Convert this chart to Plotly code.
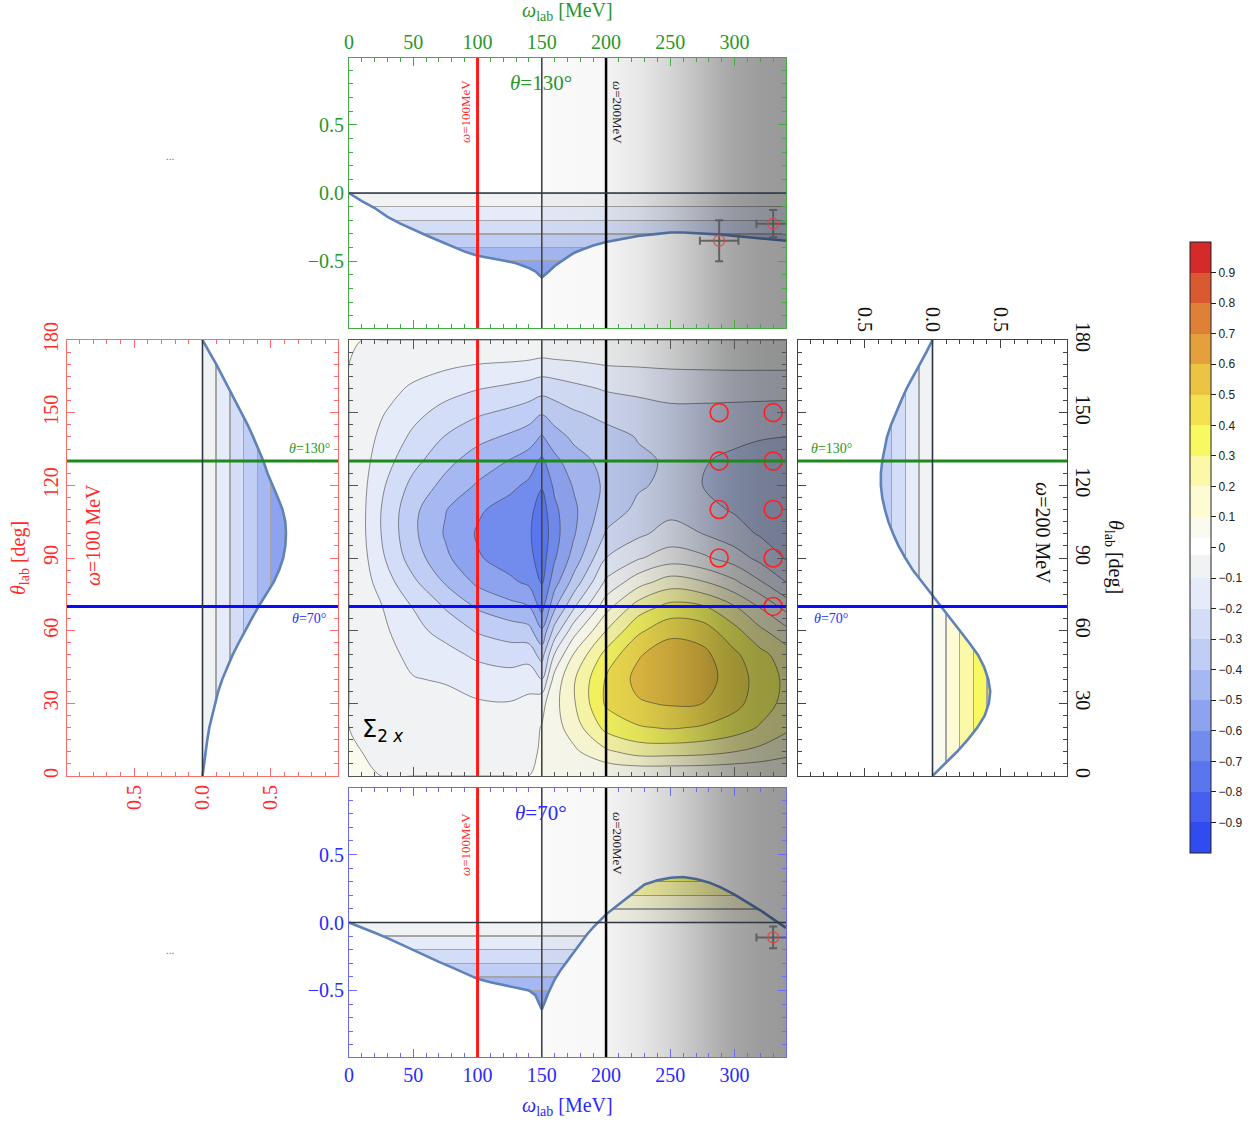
import plotly.graph_objects as go

W, H = 1260, 1124

# ---------------- data ----------------
omega_grid = [0, 10, 25, 50, 75, 100, 125, 140, 150, 160, 175, 200, 225, 250, 275, 300, 320, 340]
theta_grid = [0, 10, 20, 30, 40, 50, 60, 70, 80, 90, 100, 110, 120, 130, 140, 150, 160, 170, 180]

# Sigma_2x along theta_grid, one list per omega of omega_grid
sig_w000 = [0, 0, 0, 0, 0, 0, 0, 0, 0, 0, 0, 0, 0, 0, 0, 0, 0, 0, 0]
sig_w010 = [0, 0.0, -0.01, -0.01, -0.015, -0.02, -0.025, -0.035, -0.05, -0.065, -0.075, -0.075, -0.07, -0.06, -0.05, -0.04, -0.025, -0.012, 0]
sig_w025 = [0, -0.005, -0.015, -0.025, -0.04, -0.055, -0.075, -0.095, -0.14, -0.18, -0.20, -0.20, -0.18, -0.15, -0.12, -0.09, -0.06, -0.03, 0]
sig_w050 = [0, -0.01, -0.025, -0.06, -0.095, -0.13, -0.17, -0.205, -0.28, -0.35, -0.38, -0.375, -0.33, -0.27, -0.22, -0.17, -0.115, -0.057, 0]
sig_w075 = [0, -0.015, -0.035, -0.065, -0.11, -0.165, -0.235, -0.31, -0.41, -0.48, -0.51, -0.495, -0.43, -0.37, -0.305, -0.235, -0.16, -0.08, 0]
sig_w100 = [0, -0.02, -0.05, -0.09, -0.145, -0.22, -0.31, -0.415, -0.52, -0.59, -0.61, -0.585, -0.51, -0.45, -0.37, -0.285, -0.195, -0.10, 0]
sig_w125 = [0, -0.02, -0.05, -0.095, -0.16, -0.245, -0.35, -0.47, -0.58, -0.645, -0.665, -0.64, -0.575, -0.505, -0.415, -0.32, -0.22, -0.11, 0]
sig_w140 = [0, -0.01, -0.035, -0.075, -0.14, -0.24, -0.37, -0.50, -0.62, -0.67, -0.685, -0.67, -0.62, -0.55, -0.45, -0.35, -0.24, -0.12, 0]
sig_w150 = [0, 0.005, 0.005, -0.03, -0.20, -0.34, -0.485, -0.64, -0.71, -0.75, -0.77, -0.75, -0.69, -0.62, -0.51, -0.39, -0.26, -0.135, 0]
sig_w160 = [0, 0.03, 0.06, 0.07, 0.04, -0.09, -0.26, -0.42, -0.54, -0.61, -0.635, -0.62, -0.58, -0.53, -0.44, -0.35, -0.25, -0.125, 0]
sig_w175 = [0, 0.08, 0.15, 0.19, 0.19, 0.11, -0.04, -0.215, -0.36, -0.46, -0.51, -0.52, -0.49, -0.44, -0.38, -0.31, -0.225, -0.115, 0]
sig_w200 = [0, 0.18, 0.33, 0.415, 0.41, 0.335, 0.20, 0.06, -0.08, -0.20, -0.29, -0.35, -0.38, -0.37, -0.335, -0.27, -0.19, -0.095, 0]
sig_w225 = [0, 0.24, 0.39, 0.49, 0.53, 0.49, 0.38, 0.245, 0.06, -0.11, -0.22, -0.28, -0.31, -0.315, -0.295, -0.245, -0.175, -0.09, 0]
sig_w250 = [0, 0.24, 0.41, 0.51, 0.575, 0.56, 0.47, 0.33, 0.15, -0.05, -0.16, -0.23, -0.28, -0.29, -0.275, -0.225, -0.16, -0.085, 0]
sig_w275 = [0, 0.23, 0.39, 0.50, 0.545, 0.53, 0.45, 0.31, 0.11, -0.08, -0.20, -0.27, -0.30, -0.295, -0.275, -0.225, -0.16, -0.082, 0]
sig_w300 = [0, 0.20, 0.35, 0.43, 0.45, 0.42, 0.33, 0.205, 0.02, -0.15, -0.26, -0.31, -0.325, -0.315, -0.285, -0.23, -0.16, -0.08, 0]
sig_w320 = [0, 0.17, 0.29, 0.35, 0.36, 0.33, 0.22, 0.09, -0.09, -0.23, -0.31, -0.34, -0.345, -0.33, -0.295, -0.235, -0.16, -0.08, 0]
sig_w340 = [0, 0.13, 0.22, 0.27, 0.28, 0.25, 0.13, -0.04, -0.20, -0.31, -0.35, -0.365, -0.36, -0.35, -0.30, -0.24, -0.16, -0.08, 0]
sigma_columns = [sig_w000, sig_w010, sig_w025, sig_w050, sig_w075, sig_w100, sig_w125, sig_w140, sig_w150,
                 sig_w160, sig_w175, sig_w200, sig_w225, sig_w250, sig_w275, sig_w300, sig_w320, sig_w340]

# cut at theta = 130 deg (top panel)
cut130_omega = [0, 10, 20, 30, 40, 50, 60, 70, 80, 90, 100, 110, 120, 130, 140, 145, 150, 155, 160, 170,
                175, 180, 190, 200, 210, 225, 240, 250, 260, 275, 290, 300, 320, 340]
cut130_sigma = [0, -0.06, -0.11, -0.175, -0.225, -0.27, -0.31, -0.35, -0.39, -0.43, -0.46, -0.475, -0.495, -0.515,
                -0.55, -0.575, -0.62, -0.58, -0.535, -0.47, -0.44, -0.42, -0.385, -0.36, -0.34, -0.315, -0.30,
                -0.29, -0.29, -0.295, -0.305, -0.315, -0.33, -0.35]
# cut at theta = 70 deg (bottom panel)
cut70_omega = [0, 10, 20, 30, 40, 50, 60, 70, 80, 90, 100, 110, 120, 130, 140, 145, 150, 155, 160, 165, 170,
               175, 180, 185, 190, 195, 200, 210, 220, 230, 240, 250, 260, 270, 280, 290, 300, 310, 320, 330, 340]
cut70_sigma = [0, -0.035, -0.075, -0.115, -0.16, -0.205, -0.25, -0.29, -0.33, -0.375, -0.415, -0.44, -0.46, -0.475,
               -0.50, -0.535, -0.64, -0.52, -0.42, -0.345, -0.28, -0.215, -0.15, -0.09, -0.035, 0.015, 0.06, 0.135,
               0.21, 0.28, 0.31, 0.33, 0.335, 0.32, 0.295, 0.255, 0.205, 0.15, 0.09, 0.025, -0.04]
# cut at omega = 100 MeV (left panel)
cut100_theta = [0, 5, 10, 15, 20, 25, 30, 35, 40, 45, 50, 55, 60, 65, 70, 75, 80, 85, 90, 95, 100, 105, 110,
                115, 120, 125, 130, 135, 140, 145, 150, 155, 160, 165, 170, 175, 180]
cut100_sigma = [0, -0.01, -0.02, -0.035, -0.05, -0.07, -0.09, -0.115, -0.145, -0.18, -0.22, -0.265, -0.31, -0.36,
                -0.41, -0.465, -0.52, -0.56, -0.59, -0.605, -0.61, -0.605, -0.585, -0.55, -0.51, -0.475, -0.445,
                -0.41, -0.37, -0.33, -0.285, -0.24, -0.195, -0.15, -0.10, -0.05, 0]
# cut at omega = 200 MeV (right panel)
cut200_theta = [0, 5, 10, 15, 20, 25, 30, 35, 40, 45, 50, 55, 60, 65, 70, 75, 80, 85, 90, 95, 100, 105, 110,
                115, 120, 125, 130, 135, 140, 145, 150, 155, 160, 165, 170, 175, 180]
cut200_sigma = [0, 0.09, 0.18, 0.26, 0.33, 0.385, 0.415, 0.425, 0.41, 0.38, 0.335, 0.27, 0.20, 0.13, 0.06, -0.01,
                -0.08, -0.145, -0.20, -0.25, -0.29, -0.325, -0.35, -0.37, -0.38, -0.38, -0.37, -0.355, -0.335,
                -0.305, -0.27, -0.23, -0.19, -0.14, -0.095, -0.045, 0]

# experimental points
exp130_omega = [288, 330]
exp130_sigma = [-0.35, -0.225]
exp130_dsigma = [0.15, 0.10]
exp130_domega = [15, 13]
exp70_omega = [330]
exp70_sigma = [-0.11]
exp70_dsigma = [0.08]
exp70_domega = [13]
meas_omega = [288, 288, 288, 288, 330, 330, 330, 330, 330]
meas_theta = [150, 130, 110, 90, 150, 130, 110, 90, 70]

theta_cuts = [130, 70]
omega_cuts = [100, 150, 200]

# colorbar ticks
cb_ticks = [-0.9, -0.8, -0.7, -0.6, -0.5, -0.4, -0.3, -0.2, -0.1, 0, 0.1, 0.2, 0.3, 0.4, 0.5, 0.6, 0.7, 0.8, 0.9]

# ---------------- styles ----------------
band_colors = ['#2e4cf0', '#4560ef', '#5a76ee', '#728cee', '#8ea3ef', '#a6b8f2', '#c0cdf4', '#d4ddf7',
               '#e6ebf9', '#f1f2f3', '#fafaee', '#fcfbd4', '#fbf9a8', '#f8f862', '#f4e050', '#ecc444',
               '#e4a03c', '#de8036', '#d95a30', '#d42a2a']
level_line = 'rgb(165,165,165)'
shade_omega = [150, 199.5, 200, 225, 250, 275, 290, 300, 320, 340]
shade_alpha = [0.02, 0.03, 0.05, 0.09, 0.165, 0.26, 0.32, 0.35, 0.385, 0.40]

SERIF = 'Liberation Serif'
SANS = 'Liberation Sans'
GREEN_F, GREEN_T, GREEN_L = '#44aa44', '#2a962a', '#1d8a1d'
RED_F, RED_T, RED_L = '#ff6a6a', '#ff2a2a', '#ff1a1a'
BLUE_F, BLUE_T, BLUE_L = '#6a6af5', '#2a2aff', '#0a0aff'
GRAY_F = '#555555'
CURVE = '#5f82b9'

n = len(band_colors)
nlev = n + 1
contour_scale = [[0, band_colors[0]]]
for k, c in enumerate(band_colors):
    contour_scale.append([(k + 0.5) / nlev, c])
    contour_scale.append([(k + 1.5) / nlev, c])
contour_scale.append([1, band_colors[-1]])


def cut_scale(hw):
    st = [[0, band_colors[0]]]
    for k, c in enumerate(band_colors):
        a = k / n + (hw if k > 0 else 0)
        b = (k + 1) / n - (hw if k < n - 1 else 0)
        st.append([a, c])
        st.append([b, c])
        if k < n - 1:
            st.append([b, level_line])
            st.append([(k + 1) / n + hw, level_line])
    st.append([1, band_colors[-1]])
    return st


s0, s1 = shade_omega[0], shade_omega[-1]
shade_scale = [[(w - s0) / (s1 - s0), f'rgba(0,0,0,{a})'] for w, a in zip(shade_omega, shade_alpha)]

# colorbar scale (bands + narrow white band at 0)
cb_scale = []
for k, c in enumerate(band_colors):
    lo, hi = k / n, (k + 1) / n
    if k == 9:
        hi = 0.4875
    if k == 10:
        lo = 0.515
    cb_scale.append([lo, c])
    cb_scale.append([hi, c])
    if k == 9:
        cb_scale.append([0.4875, '#ffffff'])
        cb_scale.append([0.515, '#ffffff'])

sigma_z = [[col[j] for col in sigma_columns] for j in range(len(theta_grid))]

fig = go.Figure()

# ---- centre contour ----
fig.add_trace(go.Contour(
    x=omega_grid, y=theta_grid, z=sigma_z, xaxis='x', yaxis='y',
    autocontour=False, contours=dict(start=-1, end=1, size=0.1, coloring='fill', showlines=True),
    line=dict(color='rgba(55,55,55,0.55)', width=1, smoothing=1),
    colorscale=contour_scale, showscale=False, hoverinfo='skip'))


def shade(xa, ya, lo, hi):
    fig.add_trace(go.Scatter(
        x=[s0, s1, s1, s0, s0], y=[lo, lo, hi, hi, lo], xaxis=xa, yaxis=ya, mode='lines',
        line=dict(width=0, color='rgba(0,0,0,0)'), fill='toself',
        fillgradient=dict(type='horizontal', colorscale=shade_scale, start=s0, stop=s1),
        hoverinfo='skip'))


shade('x', 'y', 0, 180)
fig.add_trace(go.Scatter(x=meas_omega, y=meas_theta, xaxis='x', yaxis='y', mode='markers',
                         marker=dict(symbol='circle-open', size=18, color='#ff2020', line=dict(width=1.6)),
                         hoverinfo='skip'))

# ---- top & bottom panels ----
for xa, ya, om, sg in [('x2', 'y2', cut130_omega, cut130_sigma), ('x3', 'y3', cut70_omega, cut70_sigma)]:
    fig.add_trace(go.Scatter(
        x=om, y=sg, xaxis=xa, yaxis=ya, mode='lines', line=dict(color=CURVE, width=2.6),
        fill='tozeroy', fillgradient=dict(type='vertical', colorscale=cut_scale(0.0026), start=-1, stop=1),
        hoverinfo='skip'))
    shade(xa, ya, -0.99, 0.99)

for xa, ya, om, sg, dsg, dom in [('x2', 'y2', exp130_omega, exp130_sigma, exp130_dsigma, exp130_domega),
                                ('x3', 'y3', exp70_omega, exp70_sigma, exp70_dsigma, exp70_domega)]:
    fig.add_trace(go.Scatter(
        x=om, y=sg, xaxis=xa, yaxis=ya, mode='markers',
        marker=dict(symbol='circle-open', size=11, color='rgba(220,70,70,0.85)', line=dict(width=1.3)),
        error_y=dict(type='data', array=dsg, color='rgba(85,85,85,0.85)', thickness=2, width=4),
        error_x=dict(type='data', array=dom, color='rgba(85,85,85,0.85)', thickness=2, width=4),
        hoverinfo='skip'))

# ---- left & right panels ----
for xa, ya, th, sg in [('x4', 'y4', cut100_theta, cut100_sigma), ('x5', 'y5', cut200_theta, cut200_sigma)]:
    fig.add_trace(go.Scatter(
        x=sg, y=th, xaxis=xa, yaxis=ya, mode='lines', line=dict(color=CURVE, width=2.6),
        fill='tozerox', fillgradient=dict(type='horizontal', colorscale=cut_scale(0.0026), start=-1, stop=1),
        hoverinfo='skip'))

# ---- colorbar carrier ----
fig.add_trace(go.Scatter(
    x=[omega_grid[0], omega_grid[0]], y=[theta_grid[0], theta_grid[0]], xaxis='x', yaxis='y', mode='markers',
    marker=dict(size=1, opacity=0, color=[-1, 1], cmin=-1, cmax=1, colorscale=cb_scale, showscale=True,
                colorbar=dict(x=1190 / W, xanchor='left', y=1 - 547.5 / H, yanchor='middle',
                              len=611, lenmode='pixels', thickness=21, thicknessmode='pixels',
                              outlinewidth=1, outlinecolor='#222', xpad=0, ypad=0,
                              tickmode='array', tickvals=cb_ticks,
                              ticktext=[('0' if v == 0 else f'{v:.1f}'.replace('-', '\u2212')) for v in cb_ticks],
                              ticks='outside', ticklen=5, tickcolor='#222',
                              tickfont=dict(family=SANS, size=12, color='#222'))),
    hoverinfo='skip', showlegend=False))

# ---------------- axes ----------------
def dom_x(p):
    return [p[0] / W, p[1] / W]


def dom_y(p):
    return [1 - p[1] / H, 1 - p[0] / H]


C_X, C_Y = (349, 786), (340, 776)
T_Y, B_Y = (58, 328), (788, 1057)
L_X, R_X = (67, 338), (798, 1067)


def axis_style(frame, tickc, dtick, mdtick, rng, **kw):
    d = dict(range=rng, showgrid=False, zeroline=False, showline=True, linecolor=frame, linewidth=1,
             mirror='ticks', ticks='inside', ticklen=8, tickwidth=1, tickcolor=frame, automargin=False,
             tickmode='linear', tick0=0, dtick=dtick,
             minor=dict(tickmode='linear', tick0=0, dtick=mdtick, ticks='inside', ticklen=4,
                        tickcolor=frame, tickwidth=1, showgrid=False),
             tickfont=dict(family=SERIF, size=20, color=tickc))
    d.update(kw)
    return d


vt = [0.5, 0, -0.5]
vtt = ['0.5', '0.0', '0.5']
fig.update_layout(
    width=W, height=H, autosize=False, margin=dict(l=0, r=0, t=0, b=0, pad=0, autoexpand=False),
    paper_bgcolor='white', plot_bgcolor='white', showlegend=False,
    xaxis=axis_style(GRAY_F, '#000', 50, 10, [0, 340], showticklabels=False, domain=dom_x(C_X), anchor='y', ticklen=9),
    yaxis=axis_style(GRAY_F, '#000', 30, 5, [0, 180], showticklabels=False, domain=dom_y(C_Y), anchor='x', ticklen=9),
    xaxis2=axis_style(GREEN_F, GREEN_T, 50, 10, [0, 340], side='top', domain=dom_x(C_X), anchor='y2'),
    yaxis2=axis_style(GREEN_F, GREEN_T, 0.5, 0.1, [-0.99, 0.99], tickformat='.1f', domain=dom_y(T_Y), anchor='x2'),
    xaxis3=axis_style(BLUE_F, BLUE_T, 50, 10, [0, 340], side='bottom', domain=dom_x(C_X), anchor='y3'),
    yaxis3=axis_style(BLUE_F, BLUE_T, 0.5, 0.1, [-0.99, 0.99], tickformat='.1f', domain=dom_y(B_Y), anchor='x3'),
    xaxis4=axis_style(RED_F, RED_T, 0.5, 0.1, [0.99, -0.99], tickmode='array', tickvals=vt, ticktext=vtt,
                      tickangle=-90, side='bottom', domain=dom_x(L_X), anchor='y4'),
    yaxis4=axis_style(RED_F, RED_T, 30, 5, [0, 180], tickangle=-90, domain=dom_y(C_Y), anchor='x4'),
    xaxis5=axis_style('#444', '#111', 0.5, 0.1, [-0.99, 0.99], tickmode='array', tickvals=vt, ticktext=vtt,
                      tickangle=90, side='top', domain=dom_x(R_X), anchor='y5'),
    yaxis5=axis_style('#444', '#111', 30, 5, [0, 180], tickangle=90, side='right', domain=dom_y(C_Y), anchor='x5'),
)

# ---------------- reference lines ----------------
def vline(xa, ya, xv, color, width):
    fig.add_shape(type='line', xref=xa, yref=f'{ya} domain', x0=xv, x1=xv, y0=0, y1=1,
                  line=dict(color=color, width=width), layer='above')


def hline(xa, ya, yv, color, width):
    fig.add_shape(type='line', xref=f'{xa} domain', yref=ya, x0=0, x1=1, y0=yv, y1=yv,
                  line=dict(color=color, width=width), layer='above')


om_styles = [(RED_L, 3), ('#444444', 1.6), ('#000000', 2.5)]
th_styles = [(GREEN_L, 3), (BLUE_L, 3)]
for xa, ya in [('x', 'y'), ('x2', 'y2'), ('x3', 'y3')]:
    for w, (c, lw) in zip(omega_cuts, om_styles):
        vline(xa, ya, w, c, lw)
for xa, ya in [('x2', 'y2'), ('x3', 'y3')]:
    hline(xa, ya, 0, '#2d3642', 1.6)
for xa, ya in [('x', 'y'), ('x4', 'y4'), ('x5', 'y5')]:
    for t, (c, lw) in zip(theta_cuts, th_styles):
        hline(xa, ya, t, c, lw)
for xa, ya in [('x4', 'y4'), ('x5', 'y5')]:
    vline(xa, ya, 0, '#2d3642', 1.6)

# ---------------- texts ----------------
def ann(text, px, py, size, color, angle=0, family=SERIF):
    fig.add_annotation(text=text, x=px / W, y=1 - py / H, xref='paper', yref='paper', showarrow=False,
                       textangle=angle, xanchor='center', yanchor='middle',
                       font=dict(family=family, size=size, color=color))


ann('<i>ω</i><sub>lab</sub> [MeV]', 567, 12, 20, GREEN_T)
ann('<i>ω</i><sub>lab</sub> [MeV]', 567, 1106, 20, BLUE_T)
ann('<i>θ</i>=130°', 541, 83, 21, GREEN_T)
ann('<i>θ</i>=70°', 541, 813, 21, BLUE_T)
ann('<i>ω</i>=100MeV', 465, 112, 13, RED_T, -90)
ann('<i>ω</i>=200MeV', 618, 112, 13, '#222', 90)
ann('<i>ω</i>=100MeV', 465, 845, 13, RED_T, -90)
ann('<i>ω</i>=200MeV', 618, 843, 13, '#222', 90)
ann('Σ<sub>2 <i>x</i></sub>', 383, 730, 24, '#000', 0, 'DejaVu Sans')
ann('<i>θ</i>=130°', 309, 448, 14, GREEN_T)
ann('<i>θ</i>=70°', 309, 618, 14, BLUE_T)
ann('<i>ω</i>=100 MeV', 93, 535, 20, RED_T, -90)
ann('<i>θ</i><sub>lab</sub> [deg]', 19, 558, 20, RED_T, -90)
ann('<i>θ</i>=130°', 831, 448, 14, GREEN_T)
ann('<i>θ</i>=70°', 831, 618, 14, BLUE_T)
ann('<i>ω</i>=200 MeV', 1043, 533, 20, '#111', 90)
ann('<i>θ</i><sub>lab</sub> [deg]', 1115, 557, 20, '#111', 90)
ann('...', 170, 156, 10, '#666', 0, SANS)
ann('...', 170, 950, 10, '#666', 0, SANS)

fig.write_html("out.html", config={'displayModeBar': False},
               post_script="document.body.style.margin='0px';")
